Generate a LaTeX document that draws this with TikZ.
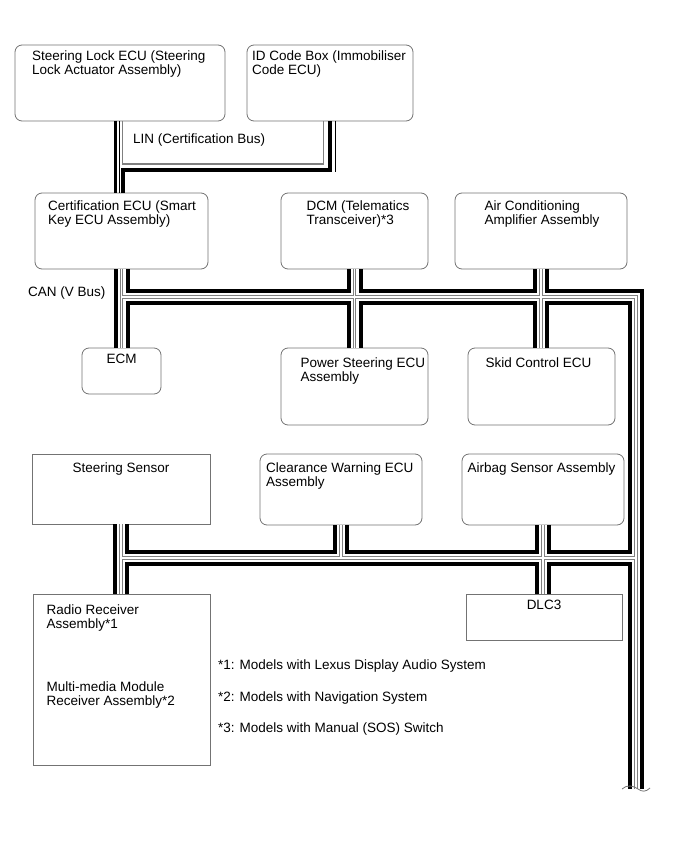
\documentclass[tikz,border=0pt]{standalone}
\usepackage{fontspec}
\setmainfont{Liberation Sans}
\usetikzlibrary{positioning}

\tikzset{
  ecu/.style={draw=black!55, line width=0.8pt, rounded corners=7pt, fill=white,
    anchor=north west, inner sep=0pt, outer sep=0pt},
  sqecu/.style={ecu, sharp corners},
  lbl/.style={inner sep=0pt, align=left},
  busouter/.style={line width=16pt, black, line join=miter},
  businner/.style={line width=8pt, white, line join=miter},
  buscore/.style={line width=3.8pt, black!50, line join=miter},
  busgap/.style={line width=1.2pt, white, line join=miter},
  linthick/.style={line width=3.8pt, black, line join=miter},
  linthin/.style={line width=1pt, black},
  lingray/.style={line width=1.2pt, black!50, line join=miter},
}

\begin{document}
\begin{tikzpicture}[x=1pt, y=-1pt, every node/.style={font=\fontsize{13.5}{14}\selectfont}]
\useasboundingbox (0,0) rectangle (690,853);

% ECUs on the LIN bus
\node[ecu, minimum width=210pt, minimum height=76pt] (lock) at (15,45) {};
\node[ecu, minimum width=166pt, minimum height=76pt] (idbox) at (247,45) {};

% ECUs on the upper CAN branch
\node[ecu, minimum width=173pt, minimum height=76pt] (cert) at (35,193) {};
\node[ecu, minimum width=147pt, minimum height=76pt] (dcm) at (281,193) {};
\node[ecu, minimum width=172pt, minimum height=76pt] (ac) at (455,193) {};
\node[ecu, minimum width=79pt, minimum height=46pt] (ecm) at (82,348) {};
\node[ecu, minimum width=147pt, minimum height=77pt] (ps) at (281,348) {};
\node[ecu, minimum width=147pt, minimum height=77pt] (skid) at (468,348) {};

% ECUs on the lower CAN branch
\node[sqecu, minimum width=178pt, minimum height=70pt] (ssens) at (32,454) {};
\node[ecu, minimum width=162pt, minimum height=71pt] (clear) at (260,454) {};
\node[ecu, minimum width=162pt, minimum height=71pt] (airbag) at (462,454) {};
\node[sqecu, minimum width=177pt, minimum height=171pt] (radio) at (33,594) {};
\node[sqecu, minimum width=156pt, minimum height=46pt] (dlc) at (466,594) {};

% box texts
\node[lbl, below right=5.5pt and 17pt of lock.north west] (locktxt) {Steering Lock ECU (Steering\\Lock Actuator Assembly)};
\node[lbl, below right=5.5pt and 5pt of idbox.north west] (idtxt) {ID Code Box (Immobiliser\\Code ECU)};
\node[lbl, below right=7.5pt and 13pt of cert.north west] (certtxt) {Certification ECU (Smart\\Key ECU Assembly)};
\node[lbl, below right=7.5pt and 25.5pt of dcm.north west] (dcmtxt) {DCM (Telematics\\Transceiver)*3};
\node[lbl, below right=7.5pt and 29.5pt of ac.north west] (actxt) {Air Conditioning\\Amplifier Assembly};
\node[lbl, below=6pt of ecm.north] (ecmtxt) {ECM};
\node[lbl, below right=9.5pt and 19.5pt of ps.north west] (pstxt) {Power Steering ECU\\Assembly};
\node[lbl, below right=9.5pt and 17.5pt of skid.north west] (skidtxt) {Skid Control ECU};
\node[lbl, below=8.5pt of ssens.north] (ssenstxt) {Steering Sensor};
\node[lbl, below right=8.5pt and 6pt of clear.north west] (cleartxt) {Clearance Warning ECU\\Assembly};
\node[lbl, below right=8.5pt and 5.5pt of airbag.north west] (airbagtxt) {Airbag Sensor Assembly};
\node[lbl, below right=11pt and 13.5pt of radio.north west] (radiotxt) {Radio Receiver\\Assembly*1};
\node[lbl, below right=88pt and 13.5pt of radio.north west] (mmtxt) {Multi-media Module\\Receiver Assembly*2};
\node[lbl, below=6pt of dlc.north] (dlctxt) {DLC3};

% bus names and notes
\node[lbl, anchor=north west] (lintxt) at (133,134) {LIN (Certification Bus)};
\node[lbl, anchor=west] (cantxt) at (28,293) {CAN (V Bus)};
\node[lbl, anchor=west] (note1) at (218,666) {*1: Models with Lexus Display Audio System};
\node[lbl, anchor=west] (note2) at (218,698) {*2: Models with Navigation System};
\node[lbl, anchor=west] (note3) at (218,729) {*3: Models with Manual (SOS) Switch};

% LIN bus
\coordinate (linup) at (0,164);
\coordinate (linlow) at (0,170);
\coordinate (lintail) at (335,172);
\draw[linthick] ([xshift=-4.5pt]lock.south) -- ([xshift=-4.5pt]lock.south |- cert.north);
\draw[linthin] ([xshift=-0.5pt]lock.south) -- ([xshift=-0.5pt]lock.south |- cert.north);
\draw[lingray] ([xshift=2.5pt]lock.south) |- ([xshift=-6.5pt]idbox.south |- linup)
  -- ([xshift=-6.5pt]idbox.south);
\draw[linthick] ([xshift=3pt]lock.south |- cert.north) |- (idbox.south |- linlow) -- (idbox.south);
\draw[linthin] ([xshift=5pt]idbox.south) -- (lintail);

% CAN bus, drawn in layers
\coordinate (canup) at (0,297);
\coordinate (canlow) at (0,558);
\coordinate (canend) at (636,789);
\foreach \layer in {busouter,businner,buscore,busgap}
  \draw[\layer]
    (cert.south) -- (cert.south |- ecm.north)
    (cert.south |- canup) -- (canup -| canend) -- (canend)
    (dcm.south) -- (dcm.south |- ps.north)
    (ac.south) -- (ac.south |- skid.north)
    (ssens.south) -- (ssens.south |- radio.north)
    (ssens.south |- canlow) -- (canlow -| canend)
    (clear.south) -- (clear.south |- canlow)
    (airbag.south) -- (airbag.south |- dlc.north);

% break mark at the open end
\draw[black!55, line width=0.8pt] ([xshift=-14pt]canend) .. controls ([xshift=-9pt,yshift=5pt]canend)
  and ([xshift=-2pt,yshift=3pt]canend) .. ([xshift=2pt]canend)
  .. controls ([xshift=6pt,yshift=-3pt]canend) and ([xshift=10pt,yshift=-3pt]canend) .. ([xshift=14pt,yshift=1pt]canend);

\end{tikzpicture}
\end{document}
